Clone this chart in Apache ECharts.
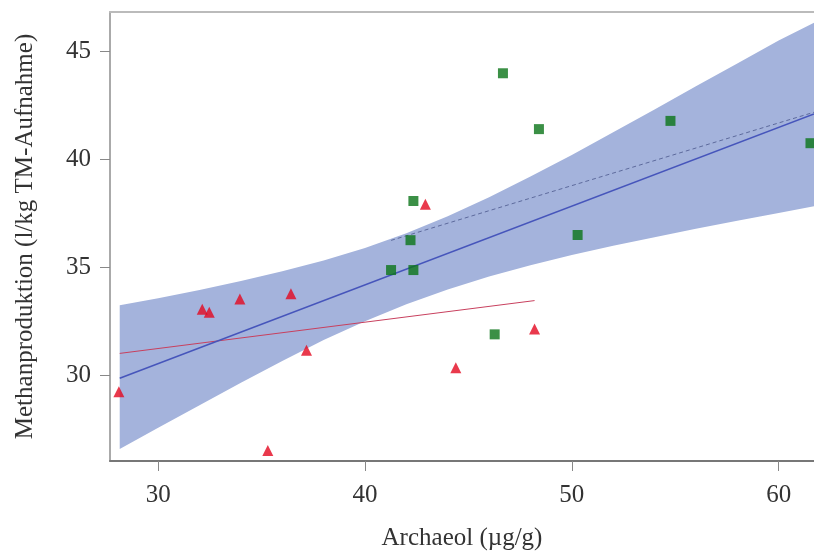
<!DOCTYPE html>
<html lang="de">
<head>
<meta charset="UTF-8">
<title>Methanproduktion / Archaeol</title>
<style>
  html, body { margin: 0; padding: 0; background: #fff; }
  #main { width: 814px; height: 551px; }
</style>
</head>
<body>
<div id="main"></div>
<script src="https://cdn.jsdelivr.net/npm/echarts@6/dist/echarts.min.js"></script>
<script>
var greenX = [42.34, 42.20, 41.26, 42.34, 46.27, 46.67, 48.41, 54.77, 61.54, 50.28];
var greenY = [38.07, 36.26, 34.88, 34.88, 31.91, 43.97, 41.39, 41.77, 40.74, 36.50];
var redX = [28.10, 32.13, 32.47, 33.95, 36.42, 37.17, 35.30, 42.92, 44.39, 48.20];
var redY = [29.26, 33.07, 32.93, 33.54, 33.78, 31.17, 26.55, 37.92, 30.37, 32.16];

// Regressionsgeraden (Endpunkte)
var fitAllX = [28.14, 61.71];
var fitAllY = [29.88, 42.09];
var fitGreenX = [41.26, 61.71];
var fitGreenY = [36.25, 42.17];
var fitRedX = [28.14, 48.20];
var fitRedY = [31.03, 33.47];

// Konfidenzband
var bandX = [28.14, 30, 32, 34, 36, 38, 40, 42, 44, 46, 48, 50, 52, 54, 56, 58, 60, 61.71];
var bandUpper = [33.25, 33.58, 33.96, 34.37, 34.82, 35.32, 35.90, 36.58, 37.36, 38.24, 39.20, 40.20, 41.25, 42.30, 43.37, 44.42, 45.48, 46.30];
var bandLower = [26.62, 27.60, 28.64, 29.67, 30.68, 31.65, 32.52, 33.30, 33.98, 34.58, 35.10, 35.57, 36.00, 36.40, 36.79, 37.16, 37.52, 37.83];

var xTicks = [30, 40, 50, 60];
var yTicks = [30, 35, 40, 45];

function pairs(xs, ys) {
    return xs.map(function (x, i) { return [x, ys[i]]; });
}

var serif = "'Liberation Serif', 'DejaVu Serif', serif";
var myChart = echarts.init(document.getElementById('main'));

// Band als Polygon: obere Kante hin, untere Kante zurueck
function renderBand(params, api) {
    var pts = [];
    for (var i = 0; i < bandX.length; i++) {
        pts.push(api.coord([bandX[i], bandUpper[i]]));
    }
    for (var j = bandX.length - 1; j >= 0; j--) {
        pts.push(api.coord([bandX[j], bandLower[j]]));
    }
    return {
        type: 'polygon',
        shape: { points: pts },
        style: { fill: '#a4b3dc' }
    };
}

var option = {
    animation: false,
    grid: { left: 110, top: 12, right: 0, bottom: 90, outerBoundsMode: 'none', containLabel: false },
    xAxis: [{
        type: 'value',
        min: 27.67,
        max: 61.71,
        name: 'Archaeol (µg/g)',
        nameLocation: 'middle',
        nameGap: 65,
        nameTextStyle: { fontFamily: serif, fontSize: 25, color: '#333' },
        axisLine: { show: true, onZero: false, lineStyle: { color: '#777', width: 2 } },
        axisTick: { show: true, length: 10, customValues: xTicks, lineStyle: { color: '#888' } },
        axisLabel: { customValues: xTicks, margin: 22, fontFamily: serif, fontSize: 25, color: '#333' },
        splitLine: { show: false }
    }, {
        type: 'value',
        position: 'top',
        min: 27.67,
        max: 61.71,
        axisLine: { show: true, onZero: false, lineStyle: { color: '#bbb', width: 2 } },
        axisTick: { show: false },
        axisLabel: { show: false },
        splitLine: { show: false }
    }],
    yAxis: {
        type: 'value',
        min: 26.06,
        max: 46.8,
        name: 'Methanproduktion (l/kg TM-Aufnahme)',
        nameLocation: 'middle',
        nameRotate: 90,
        nameGap: 72,
        nameTextStyle: { fontFamily: serif, fontSize: 25, color: '#333' },
        axisLine: { show: true, onZero: false, lineStyle: { color: '#aaa', width: 2 } },
        axisTick: { show: true, length: 10, customValues: yTicks, lineStyle: { color: '#888' } },
        axisLabel: { customValues: yTicks, margin: 19, fontFamily: serif, fontSize: 25, color: '#333' },
        splitLine: { show: false }
    },
    series: [
        {
            type: 'custom',
            renderItem: renderBand,
            data: [0],
            silent: true,
            z: 1
        },
        {
            type: 'line',
            data: pairs(fitRedX, fitRedY),
            symbol: 'none',
            z: 2,
            lineStyle: { color: '#c8405e', width: 1 }
        },
        {
            type: 'line',
            data: pairs(fitGreenX, fitGreenY),
            symbol: 'none',
            z: 2,
            lineStyle: { color: '#5d6a9c', width: 1, type: [4, 3] }
        },
        {
            type: 'line',
            data: pairs(fitAllX, fitAllY),
            symbol: 'none',
            z: 2,
            lineStyle: { color: '#4655bb', width: 1.5 }
        },
        {
            type: 'scatter',
            data: pairs(redX, redY),
            symbol: 'triangle',
            symbolSize: 11,
            z: 3,
            itemStyle: { color: '#e4081f' }
        },
        {
            type: 'scatter',
            data: pairs(greenX, greenY),
            symbol: 'rect',
            symbolSize: 10,
            z: 3,
            itemStyle: { color: '#0a7418' }
        }
    ]
};

myChart.setOption(option);
</script>
</body>
</html>
